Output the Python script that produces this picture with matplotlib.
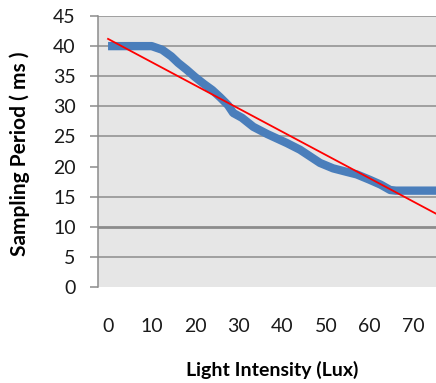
import numpy as np
import matplotlib.pyplot as plt

plt.rcParams['font.family'] = ['Lato', 'DejaVu Sans']

# Sampling period vs light intensity
lux = [0, 2, 5, 8, 10, 12.4, 14.5, 16.1, 18, 19.9, 22, 23.9, 25.7, 27.5, 28.7,
       30.7, 33.3, 36.5, 41, 44, 48.6, 51.6, 54.8, 57, 60, 62.5, 64.7, 66, 70, 76]
period = [40, 40, 40, 40, 40, 39.4, 38.3, 37.2, 36.1, 34.9, 33.7, 32.7, 31.5, 30.2, 28.9,
          28.1, 26.6, 25.4, 23.9, 22.8, 20.6, 19.7, 19.1, 18.7, 17.8, 17.0, 16.1, 16, 16, 16]

# linear trend line
trend_slope = -0.386
trend_intercept = 41.2

xticks = [0, 10, 20, 30, 40, 50, 60, 70]
yticks = [0, 5, 10, 15, 20, 25, 30, 35, 40, 45]

fig = plt.figure(figsize=(4.36, 3.83), dpi=100)
ax = fig.add_axes([0.2248, 0.2507, 0.7752, 0.7075])
ax.set_facecolor('#e6e6e6')

for y in [5, 15, 25, 30, 35, 40, 45]:
    ax.axhline(y, color='#8c8c8c', lw=1.1, zorder=1)
ax.axhline(10, color='#8c8c8c', lw=2, zorder=1)

ax.plot(lux, period, color='#4a7ebb', lw=6, solid_capstyle='butt', zorder=3)
tx = np.array([0, 76])
ax.plot(tx, trend_intercept + trend_slope * tx, color='#ff0000', lw=1.3, zorder=4)

ax.set_xlim(-2.3, 75.2)
ax.set_ylim(0, 45)
ax.set_xticks(xticks)
ax.set_yticks(yticks)
ax.tick_params(axis='x', length=0, pad=22, labelsize=14, labelcolor='#1a1a1a')
ax.tick_params(axis='y', length=6, color='#8c8c8c', width=1.1, pad=10, labelsize=14,
               labelcolor='#1a1a1a')

for s in ['top', 'right', 'bottom']:
    ax.spines[s].set_visible(False)
ax.spines['left'].set_color('#8c8c8c')
ax.spines['left'].set_linewidth(1.1)

fig.text(272 / 436, 1 - 370 / 383, 'Light Intensity (Lux)', fontsize=14,
         fontweight='bold', ha='center', va='center')
fig.text(20 / 436, 1 - 154 / 383, 'Sampling Period ( ms )', fontsize=15,
         fontweight='bold', ha='center', va='center', rotation=90)

fig.savefig('out.png', dpi=100)
